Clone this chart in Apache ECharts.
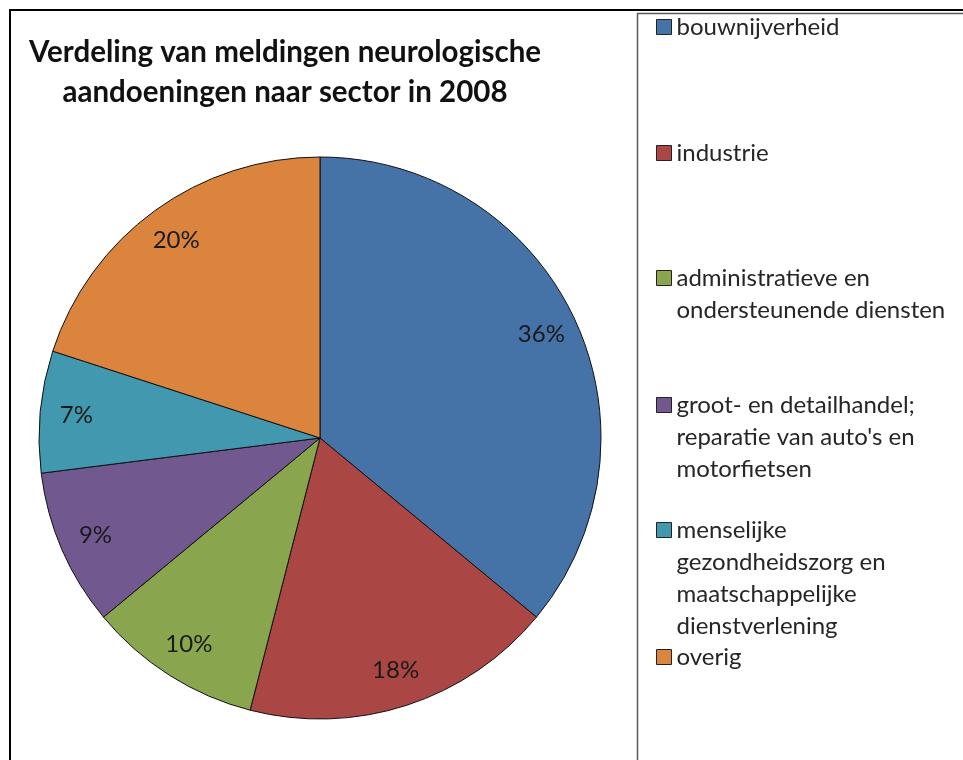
<!DOCTYPE html>
<html>
<head>
<meta charset="utf-8">
<title>Verdeling van meldingen neurologische aandoeningen</title>
<script src="https://cdn.jsdelivr.net/npm/echarts@6/dist/echarts.min.js"></script>
<style>
  html, body { margin: 0; padding: 0; background: #ffffff; }
  #chart { width: 963px; height: 760px; }
</style>
</head>
<body>
<div id="chart"></div>
<script>
// data
var sectors = [
  'bouwnijverheid',
  'industrie',
  'administratieve en\nondersteunende diensten',
  'groot- en detailhandel;\nreparatie van auto\'s en\nmotorfietsen',
  'menselijke\ngezondheidszorg en\nmaatschappelijke\ndienstverlening',
  'overig'
];
var shares = [36, 18, 10, 9, 7, 20];
var colors = ['#4572A7', '#AA4643', '#89A54E', '#71588F', '#4198AF', '#DB843D'];

var FONT = 'Lato';
var LH = 32;
var R = 281;

var chart = echarts.init(document.getElementById('chart'), null, { renderer: 'canvas' });

var pieData = sectors.map(function (name, i) {
  return { name: name, value: shares[i], itemStyle: { color: colors[i] } };
});

// one legend per entry, so the slots keep Excel's even spacing.
// the legend text is always centred on its icon, so blank lines are put in
// front to get the icon beside the first line
var firstLineY = [27, 153, 278, 405, 530, 657];
var legends = sectors.map(function (name, i) {
  var n = name.split('\n').length;
  return {
    data: [name],
    left: 656,
    top: firstLineY[i] - (2 * n - 1) * LH / 2,
    padding: 0,
    itemWidth: 15,
    itemHeight: 15,
    itemGap: 0,
    selectedMode: false,
    icon: 'rect',
    itemStyle: { borderColor: '#222', borderWidth: 1 },
    formatter: function (label) {
      return new Array(n).join('\n') + label;
    },
    textStyle: {
      fontFamily: FONT,
      fontSize: 24,
      color: '#262626',
      lineHeight: LH
    }
  };
});

var option = {
  backgroundColor: '#ffffff',
  animation: false,
  title: {
    text: 'Verdeling van meldingen neurologische\naandoeningen naar sector in 2008',
    left: 285,
    top: 32,
    textAlign: 'center',
    padding: 0,
    textStyle: {
      fontFamily: FONT,
      fontSize: 29.5,
      fontWeight: 'bold',
      color: '#111',
      lineHeight: 40
    }
  },
  legend: legends,
  graphic: [
    {
      type: 'rect',
      shape: { x: 10, y: 10, width: 1000, height: 800 },
      style: { fill: 'none', stroke: '#000', lineWidth: 2 },
      silent: true
    },
    {
      type: 'rect',
      shape: { x: 637.5, y: 13.5, width: 400, height: 800 },
      style: { fill: 'none', stroke: '#5a5a5a', lineWidth: 1.5 },
      silent: true
    }
  ],
  series: [
    {
      name: 'sector',
      type: 'pie',
      center: [320, 438],
      radius: [0, R],
      startAngle: 90,
      clockwise: true,
      percentPrecision: 0,
      label: { show: false },
      labelLine: { show: false },
      itemStyle: { borderColor: '#111', borderWidth: 1 },
      emphasis: { disabled: true },
      data: pieData
    },
    {
      // transparent ring only to place the percentage labels near the rim
      name: 'labels',
      type: 'pie',
      center: [320, 438],
      radius: [R * 0.72, R],
      startAngle: 90,
      clockwise: true,
      percentPrecision: 0,
      silent: true,
      itemStyle: { color: 'rgba(0,0,0,0)', borderWidth: 0 },
      label: {
        show: true,
        position: 'inside',
        formatter: '{d}%',
        fontFamily: FONT,
        fontSize: 24,
        color: '#1a1a1a'
      },
      labelLine: { show: false },
      emphasis: { disabled: true },
      data: sectors.map(function (name, i) { return { name: name, value: shares[i] }; })
    }
  ]
};

chart.setOption(option);
window.onresize = function () {
  chart.resize();
};
</script>
</body>
</html>
